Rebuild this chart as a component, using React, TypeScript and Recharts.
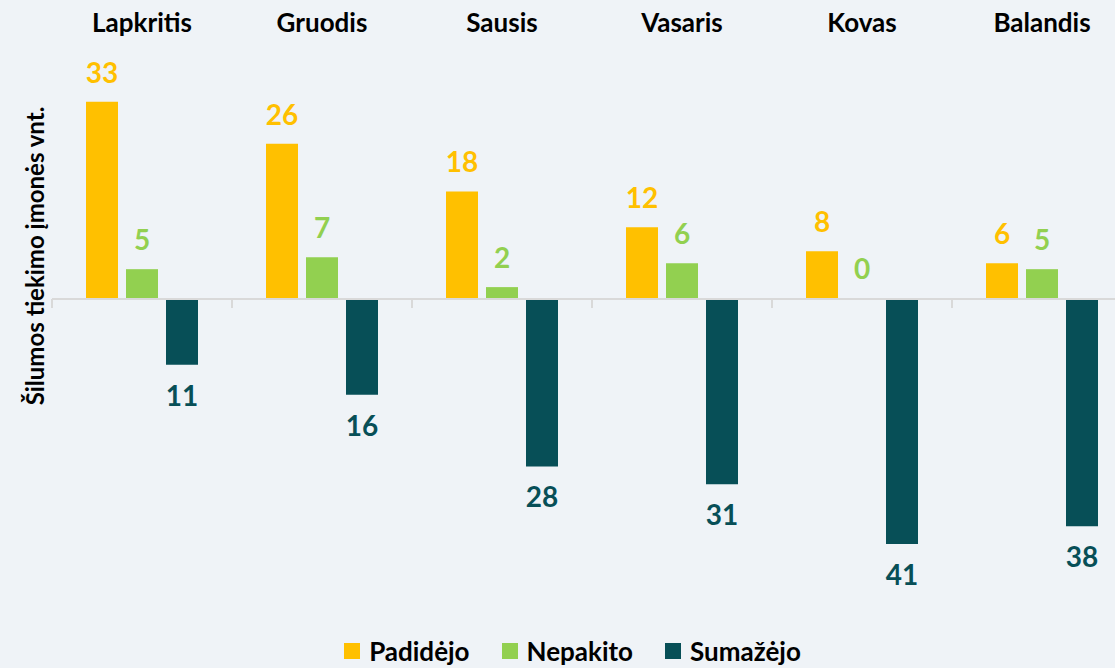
import { BarChart, Bar, XAxis, YAxis, Legend, LabelList, ReferenceLine } from 'recharts';

const months = ['Lapkritis', 'Gruodis', 'Sausis', 'Vasaris', 'Kovas', 'Balandis'];
const padidejo = [33, 26, 18, 12, 8, 6];
const nepakito = [5, 7, 2, 6, 0, 5];
const sumazejo = [-11, -16, -28, -31, -41, -38];
const seriesNames = ['Padidėjo', 'Nepakito', 'Sumažėjo'];

const YELLOW = '#FFC000';
const GREEN = '#92D050';
const TEAL = '#074F57';

const data = months.map((month, i) => ({
  month,
  padidejo: padidejo[i],
  nepakito: nepakito[i],
  sumazejo: sumazejo[i],
}));

const abs = (v: any) => Math.abs(Number(v));
// a zero value still needs a (hidden) rect so its label gets drawn
const zeroSize = (v: any) => (Number(v) === 0 ? 1 : 0);

function LegendContent({ payload }: any) {
  const items = [...(payload || [])].sort(
    (a: any, b: any) => seriesNames.indexOf(a.value) - seriesNames.indexOf(b.value)
  );
  return (
    <div style={{ display: 'flex', justifyContent: 'center', lineHeight: '30px' }}>
      {items.map((p: any, i: number) => (
        <div key={p.value} style={{ display: 'flex', alignItems: 'center', marginLeft: i ? 32 : 0 }}>
          <span style={{ width: 16, height: 16, background: p.color, marginRight: 9, display: 'inline-block' }} />
          <span style={{ fontSize: 26, fontWeight: 700, color: '#000' }}>{p.value}</span>
        </div>
      ))}
    </div>
  );
}

function YLabel() {
  return (
    <text
      x={34}
      y={256}
      transform="rotate(-90, 34, 256)"
      textAnchor="middle"
      dominantBaseline="central"
      style={{ fontSize: 24, fontWeight: 700, fill: '#000' }}
    >
      Šilumos tiekimo įmonės vnt.
    </text>
  );
}

export default function App() {
  return (
    <div
      style={{
        position: 'absolute',
        left: 0,
        top: 0,
        width: 1115,
        height: 668,
        overflow: 'hidden',
        background: '#EFF3F7',
        fontFamily: 'Lato, sans-serif',
      }}
    >
      <BarChart
        width={1140}
        height={668}
        data={data}
        margin={{ top: 0, right: 8, bottom: 100, left: 0 }}
        barSize={32}
        barGap={8}
      >
        <XAxis
          dataKey="month"
          orientation="top"
          height={60}
          axisLine={false}
          tickLine={false}
          tickSize={0}
          tickMargin={28}
          interval={0}
          tick={{ fontSize: 26, fontWeight: 700, fill: '#000' }}
        />
        <YAxis
          domain={[-45, 40]}
          width={52}
          tick={false}
          axisLine={false}
          tickLine={false}
          label={<YLabel />}
        />
        <Legend
          layout="horizontal"
          verticalAlign="middle"
          align="center"
          content={<LegendContent />}
          wrapperStyle={{ top: 636, left: 0, width: 1145 }}
        />
        <Bar dataKey="padidejo" name={seriesNames[0]} fill={YELLOW} isAnimationActive={false}>
          <LabelList dataKey="padidejo" position="top" offset={19} fill={YELLOW} fontSize={28} fontWeight={700} />
        </Bar>
        <Bar dataKey="nepakito" name={seriesNames[1]} fill={GREEN} minPointSize={zeroSize} isAnimationActive={false}>
          <LabelList dataKey="nepakito" position="top" offset={19} fill={GREEN} fontSize={28} fontWeight={700} />
        </Bar>
        <Bar dataKey="sumazejo" name={seriesNames[2]} fill={TEAL} isAnimationActive={false}>
          <LabelList dataKey="sumazejo" position="top" offset={21} formatter={abs} fill={TEAL} fontSize={28} fontWeight={700} />
        </Bar>
        <ReferenceLine y={0} stroke="#D9D9D9" strokeWidth={2} />
        {months.map((m) => (
          <ReferenceLine
            key={m}
            position="start"
            segment={[{ x: m, y: 0 }, { x: m, y: -1.5 }]}
            stroke="#D9D9D9"
            strokeWidth={2}
          />
        ))}
      </BarChart>
    </div>
  );
}
